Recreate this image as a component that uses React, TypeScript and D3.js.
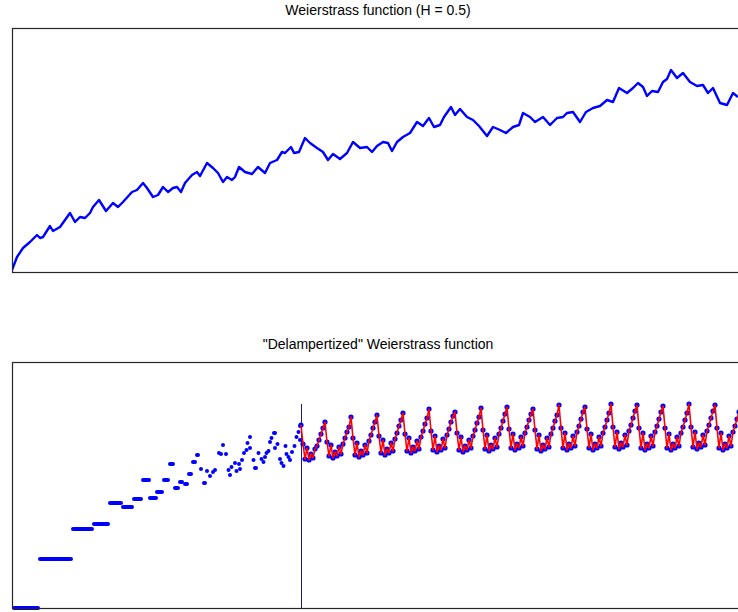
import { useEffect, useRef } from 'react';
import * as d3 from 'd3';

// ── Top panel: Weierstrass function, H = 0.5 (t, W) ──
const W_T = [
  0, 0.05, 0.11, 0.18, 0.25, 0.28, 0.31, 0.38, 0.41, 0.48, 0.53, 0.58, 0.63, 0.68, 0.73, 0.78, 0.81, 0.87, 0.94, 1.01,
  1.06, 1.11, 1.20, 1.25, 1.31, 1.35, 1.41, 1.46, 1.51, 1.56, 1.61, 1.65, 1.69, 1.73, 1.80, 1.85, 1.88, 1.95, 2.01, 2.06,
  2.11, 2.15, 2.20, 2.23, 2.27, 2.33, 2.40, 2.46, 2.53, 2.58, 2.65, 2.70, 2.73, 2.79, 2.82, 2.87, 2.93, 2.98, 3.05, 3.11,
  3.16, 3.21, 3.28, 3.35, 3.41, 3.48, 3.55, 3.60, 3.65, 3.71, 3.76, 3.80, 3.85, 3.91, 3.98, 4.05, 4.11, 4.17, 4.22, 4.28,
  4.32, 4.39, 4.43, 4.48, 4.55, 4.61, 4.67, 4.75, 4.81, 4.88, 4.94, 5.01, 5.07, 5.11, 5.18, 5.23, 5.31, 5.38, 5.45, 5.51,
  5.55, 5.61, 5.68, 5.74, 5.81, 5.88, 5.95, 6.01, 6.07, 6.15, 6.21, 6.26, 6.31, 6.35, 6.40, 6.46, 6.51, 6.55, 6.59, 6.65,
  6.71, 6.78, 6.85, 6.91, 6.96, 7.01, 7.08, 7.15, 7.21, 7.26,
];
const W_V = [
  0.02, 0.15, 0.24, 0.30, 0.37, 0.34, 0.35, 0.46, 0.41, 0.45, 0.52, 0.59, 0.50, 0.55, 0.54, 0.59, 0.65, 0.72, 0.61, 0.69,
  0.65, 0.70, 0.80, 0.82, 0.89, 0.84, 0.75, 0.77, 0.85, 0.80, 0.84, 0.85, 0.80, 0.89, 0.97, 1.00, 0.96, 1.09, 1.04, 0.99,
  0.90, 0.95, 0.92, 0.95, 1.05, 1.00, 0.98, 1.05, 0.99, 1.09, 1.12, 1.20, 1.19, 1.25, 1.19, 1.20, 1.34, 1.29, 1.24, 1.20,
  1.12, 1.18, 1.13, 1.19, 1.30, 1.24, 1.25, 1.20, 1.26, 1.30, 1.29, 1.21, 1.30, 1.35, 1.39, 1.50, 1.46, 1.54, 1.45, 1.47,
  1.55, 1.65, 1.57, 1.63, 1.55, 1.52, 1.46, 1.36, 1.45, 1.42, 1.39, 1.45, 1.47, 1.59, 1.55, 1.50, 1.55, 1.47, 1.54, 1.55,
  1.59, 1.60, 1.50, 1.60, 1.64, 1.66, 1.72, 1.70, 1.84, 1.79, 1.84, 1.89, 1.85, 1.76, 1.81, 1.80, 1.90, 1.93, 2.02, 1.94,
  1.99, 1.90, 1.86, 1.87, 1.79, 1.84, 1.69, 1.67, 1.79, 1.75,
];

// ── Bottom panel, before the cut: runs of equal samples [t0, t1, value] ──
const STEPS: [number, number, number][] = [
  [0, 0.28, 0.0], [0.26, 0.61, 0.49], [0.59, 0.82, 0.79], [0.80, 0.98, 0.84], [0.96, 1.11, 1.05],
  [1.09, 1.22, 1.01], [1.20, 1.31, 1.09], [1.29, 1.39, 1.28], [1.36, 1.46, 1.10], [1.43, 1.52, 1.16],
  [1.50, 1.58, 1.28], [1.56, 1.63, 1.44], [1.61, 1.68, 1.20], [1.66, 1.72, 1.26], [1.71, 1.77, 1.24],
  [1.75, 1.81, 1.34], [1.79, 1.85, 1.46], [1.83, 1.88, 1.53], [1.87, 1.91, 1.39], [1.90, 1.95, 1.25],
  [1.93, 1.97, 1.37], [1.96, 2.00, 1.32], [1.99, 2.03, 1.36], [2.01, 2.05, 1.38], [2.05, 2.09, 1.55],
  [2.07, 2.11, 1.54], [2.09, 2.13, 1.63], [2.12, 2.16, 1.54], [2.15, 2.18, 1.38], [2.16, 2.20, 1.33],
  [2.18, 2.21, 1.41], [2.21, 2.25, 1.45], [2.23, 2.26, 1.37], [2.25, 2.29, 1.44], [2.26, 2.30, 1.39],
  [2.29, 2.31, 1.48], [2.31, 2.33, 1.55], [2.33, 2.36, 1.58], [2.34, 2.37, 1.65], [2.36, 2.40, 1.60],
  [2.36, 2.40, 1.71], [2.40, 2.43, 1.48], [2.41, 2.46, 1.40], [2.45, 2.48, 1.55], [2.48, 2.51, 1.49],
  [2.50, 2.53, 1.46], [2.51, 2.55, 1.51], [2.53, 2.56, 1.55], [2.55, 2.58, 1.57], [2.56, 2.60, 1.66],
  [2.58, 2.61, 1.70], [2.60, 2.65, 1.75], [2.61, 2.65, 1.60], [2.64, 2.67, 1.64], [2.66, 2.70, 1.49],
  [2.68, 2.71, 1.45], [2.70, 2.73, 1.42], [2.72, 2.75, 1.62], [2.73, 2.76, 1.54], [2.75, 2.78, 1.51],
  [2.76, 2.80, 1.48], [2.79, 2.81, 1.56], [2.81, 2.84, 1.62], [2.83, 2.86, 1.71], [2.85, 2.88, 1.76],
  [2.86, 2.90, 1.82], [2.86, 2.90, 1.68],
];

// ── Bottom panel, after the cut: evenly sampled values ──
const CUT_T = 2.89;
const CUT_TOP = 2.04;
const DENSE_T0 = 2.89;
const DENSE_DT = 0.02;
const DENSE_V = [
  1.83, 1.64, 1.49, 1.60, 1.48, 1.54, 1.50, 1.59, 1.62, 1.68, 1.74, 1.80,
  1.86, 1.66, 1.52, 1.63, 1.50, 1.56, 1.52, 1.61, 1.54, 1.64, 1.70, 1.76, 1.81,
  1.91, 1.70, 1.53, 1.65, 1.51, 1.57, 1.53, 1.63, 1.55, 1.67, 1.73, 1.80, 1.86,
  1.93, 1.72, 1.55, 1.68, 1.53, 1.59, 1.55, 1.65, 1.57, 1.69, 1.75, 1.82, 1.88,
  1.95, 1.74, 1.57, 1.70, 1.55, 1.61, 1.57, 1.67, 1.59, 1.71, 1.77, 1.84, 1.90,
  1.99, 1.77, 1.58, 1.72, 1.56, 1.62, 1.58, 1.69, 1.60, 1.73, 1.79, 1.86, 1.92,
  1.96, 1.75, 1.58, 1.71, 1.56, 1.62, 1.58, 1.68, 1.60, 1.72, 1.78, 1.85, 1.91,
  2.00, 1.78, 1.59, 1.73, 1.57, 1.63, 1.59, 1.70, 1.61, 1.74, 1.80, 1.87, 1.94,
  2.01, 1.79, 1.60, 1.74, 1.58, 1.64, 1.60, 1.71, 1.62, 1.75, 1.81, 1.88, 1.94,
  1.99, 1.78, 1.59, 1.73, 1.57, 1.63, 1.59, 1.70, 1.61, 1.74, 1.80, 1.87, 1.93,
  2.03, 1.80, 1.60, 1.75, 1.58, 1.64, 1.60, 1.72, 1.62, 1.76, 1.82, 1.89, 1.96,
  2.01, 1.79, 1.60, 1.74, 1.58, 1.64, 1.60, 1.71, 1.62, 1.75, 1.81, 1.88, 1.95,
  2.04, 1.81, 1.61, 1.76, 1.59, 1.65, 1.61, 1.73, 1.63, 1.77, 1.83, 1.90, 1.97,
  2.03, 1.80, 1.60, 1.75, 1.58, 1.64, 1.60, 1.72, 1.62, 1.76, 1.82, 1.89, 1.96,
  2.02, 1.80, 1.60, 1.74, 1.58, 1.64, 1.60, 1.71, 1.62, 1.75, 1.81, 1.88, 1.95,
  2.04, 1.81, 1.61, 1.76, 1.59, 1.65, 1.61, 1.73, 1.63, 1.77, 1.83, 1.90, 1.97,
  2.03, 1.80, 1.60, 1.75, 1.58, 1.64, 1.60, 1.72, 1.62, 1.76, 1.82, 1.89, 1.96,
  2.02, 1.85,
];

const TITLES = ['Weierstrass function (H = 0.5)', '"Delampertized" Weierstrass function'];

const W = 738, H = 612;
const AX_L = 12, AX_R = 744;
const TOP_PANEL = { top: 28, bottom: 272, ymax: 2.44 };
const BOT_PANEL = { top: 362, bottom: 608, ymax: 2.46 };
const BLUE = '#0000ff', RED = '#ff0000', AXIS = '#262626';

export default function App() {
  const svgRef = useRef<SVGSVGElement>(null);

  useEffect(() => {
    if (!svgRef.current) return;
    const svg = d3.select(svgRef.current);
    svg.selectAll('*').remove();

    const x = d3.scaleLinear().domain([0, 7.32]).range([AX_L, AX_R]);
    const yTop = d3.scaleLinear().domain([0, TOP_PANEL.ymax]).range([TOP_PANEL.bottom, TOP_PANEL.top]);
    const yBot = d3.scaleLinear().domain([0, BOT_PANEL.ymax]).range([BOT_PANEL.bottom, BOT_PANEL.top]);

    const defs = svg.append('defs');
    [TOP_PANEL, BOT_PANEL].forEach((p, i) => {
      defs.append('clipPath').attr('id', `clip${i}`).append('rect')
        .attr('x', AX_L).attr('y', p.top - 3).attr('width', AX_R - AX_L).attr('height', p.bottom - p.top + 6);
    });

    // Top panel line
    const gTop = svg.append('g').attr('clip-path', 'url(#clip0)');
    const line = d3.line<number>().x((_, i) => x(W_T[i])).y(d => yTop(d));
    gTop.append('path').datum(W_V).attr('d', line)
      .attr('fill', 'none').attr('stroke', BLUE).attr('stroke-width', 2.4).attr('stroke-linejoin', 'round');

    // Bottom panel
    const gBot = svg.append('g').attr('clip-path', 'url(#clip1)');

    gBot.append('line')
      .attr('x1', x(CUT_T)).attr('x2', x(CUT_T)).attr('y1', yBot(CUT_TOP)).attr('y2', yBot(0))
      .attr('stroke', '#1a1a8c').attr('stroke-width', 1).attr('shape-rendering', 'crispEdges');

    gBot.selectAll('line.step').data(STEPS).enter().append('line')
      .attr('class', 'step')
      .attr('x1', d => Math.min(x(d[0]) + 2, (x(d[0]) + x(d[1])) / 2))
      .attr('x2', d => Math.max(x(d[1]) - 2, (x(d[0]) + x(d[1])) / 2))
      .attr('y1', d => yBot(d[2])).attr('y2', d => yBot(d[2]))
      .attr('stroke', BLUE).attr('stroke-width', 4).attr('stroke-linecap', 'round');

    const dense = DENSE_V.map((v, i) => ({ t: DENSE_T0 + i * DENSE_DT, v }));
    gBot.selectAll('circle.pt').data(dense).enter().append('circle')
      .attr('class', 'pt')
      .attr('cx', d => x(d.t)).attr('cy', d => yBot(d.v)).attr('r', 2.6)
      .attr('fill', BLUE);

    gBot.append('path').datum(dense)
      .attr('d', d3.line<{ t: number; v: number }>().x(d => x(d.t)).y(d => yBot(d.v)))
      .attr('fill', 'none').attr('stroke', RED).attr('stroke-width', 1.6).attr('stroke-linejoin', 'round');

    // Axes boxes (no ticks)
    [TOP_PANEL, BOT_PANEL].forEach((p, i) => {
      svg.append('rect')
        .attr('x', AX_L + 0.5).attr('y', p.top + 0.5)
        .attr('width', AX_R - AX_L).attr('height', p.bottom - p.top)
        .attr('fill', 'none').attr('stroke', AXIS).attr('stroke-width', 1.2);
      svg.append('text')
        .attr('x', (AX_L + AX_R) / 2).attr('y', p.top - 13)
        .attr('text-anchor', 'middle')
        .style('font-family', '"Liberation Sans", Arial, sans-serif').style('font-size', '14px')
        .style('fill', '#000')
        .text(TITLES[i]);
    });
  }, []);

  return (
    <div style={{ position: 'absolute', left: 0, top: 0, width: W, height: H, background: '#fff', overflow: 'hidden' }}>
      <svg ref={svgRef} width={W} height={H} style={{ display: 'block' }} />
    </div>
  );
}
